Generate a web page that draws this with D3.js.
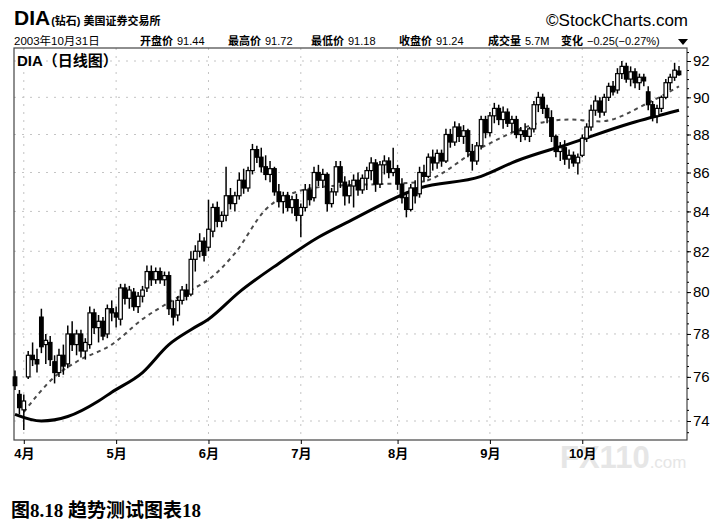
<!DOCTYPE html>
<html>
<head>
<meta charset="utf-8">
<script src="https://cdn.jsdelivr.net/npm/d3@7"></script>
<style>
    body { margin: 0; background: #fff; }
    text { font-family: "Liberation Sans", Arial, "Noto Sans CJK SC", sans-serif; }
</style>
</head>
<body>
<script>
// DIA daily candles, 2003-03-28 .. 2003-10-31 (152 trading days)
const opens = [76.0,75.2,74.5,76.0,77.0,76.8,78.8,77.5,77.6,76.7, 76.2,77.0,76.6,78.0,77.5,78.0,77.2,77.5,79.0,78.3,
    78.6,78.0,79.2,79.0,78.7,80.2,79.7,80.0,79.3,79.8, 80.2,81.0,80.6,81.0,80.6,80.8,79.2,78.9,79.6,80.1,
    79.9,81.6,82.0,82.5,82.2,83.0,84.2,83.5,83.8,84.8, 84.4,84.8,85.6,85.2,86.1,87.2,86.8,86.3,85.9,86.2,
    85.0,84.5,84.8,84.2,84.6,83.8,84.2,85.1,84.7,86.0, 85.6,85.9,84.4,85.0,86.3,85.5,84.8,85.3,85.6,85.1,
    85.7,86.1,86.5,85.4,86.4,86.6,86.0,86.2,85.4,84.7, 84.1,85.2,84.9,86.0,85.8,86.8,86.5,87.0,86.6,88.0,
    87.6,88.4,87.9,88.2,87.1,86.6,87.4,88.8,88.1,89.0, 89.4,88.8,89.2,88.6,88.8,88.0,88.2,87.9,88.3,89.6,
    90.0,89.4,88.9,87.9,87.1,87.3,86.7,86.9,86.5,86.9, 87.8,88.4,89.3,89.8,89.2,90.0,90.6,90.4,91.3,91.7,
    91.0,91.4,90.8,91.1,90.3,89.6,89.0,89.4,90.0,90.8, 91.1,91.44];
const highs = [76.3,75.4,75.2,77.2,77.6,77.3,79.2,78.0,77.9,77.0, 77.3,77.5,78.4,78.6,78.2,78.2,77.8,79.3,79.2,78.9,
    78.8,79.4,79.6,79.3,80.4,80.4,80.3,80.2,80.0,80.3, 81.3,81.3,81.2,81.2,81.0,81.0,79.6,79.8,80.3,80.4,
    82.0,82.3,82.9,82.7,84.6,84.4,84.5,84.0,86.3,85.2, 85.0,86.0,86.2,86.3,87.5,87.4,87.3,86.9,86.6,86.3,
    85.4,85.0,85.0,84.8,84.9,84.4,85.4,85.4,86.3,86.4, 86.2,86.0,85.2,86.6,86.6,85.8,85.6,85.9,86.0,85.9,
    86.3,86.8,86.7,86.6,86.9,86.8,87.3,86.4,85.7,85.0, 85.4,85.6,86.3,86.4,87.0,87.2,87.2,87.2,88.3,88.3,
    88.7,88.6,88.5,88.3,87.5,87.6,89.0,89.0,89.2,89.7, 89.6,89.5,89.4,89.0,89.0,88.4,88.6,88.4,89.8,90.3,
    90.2,89.6,89.3,88.0,87.6,87.7,87.2,87.1,87.0,88.0, 88.6,89.6,90.1,90.0,90.2,90.8,90.9,91.6,92.0,91.9,
    91.7,91.6,91.3,91.3,90.6,89.8,89.6,90.1,91.0,91.3, 91.9,91.72];
const lows = [75.4,74.3,73.6,75.9,76.5,76.2,77.1,76.6,76.5,75.7, 76.0,76.1,76.4,77.2,77.0,76.9,76.8,77.3,78.0,77.6,
    77.7,77.8,78.6,78.3,78.4,79.4,79.2,79.1,79.0,79.5, 80.0,80.3,80.4,80.4,80.3,78.9,78.4,78.6,79.4,79.6,
    79.8,81.0,81.7,81.5,82.0,82.7,83.2,83.2,83.5,84.1, 84.0,84.6,84.9,85.0,85.9,86.5,86.0,85.6,85.5,84.8,
    84.2,83.9,84.0,83.9,83.5,82.7,84.0,84.3,84.5,85.3, 85.2,84.0,84.2,84.8,85.2,84.3,84.4,84.2,84.8,84.9,
    85.1,85.6,85.0,85.2,85.9,85.7,85.8,85.1,84.4,83.7, 84.0,84.4,84.7,85.5,85.7,86.1,86.2,86.3,86.5,87.3,
    87.4,87.6,87.5,86.8,86.1,86.4,87.2,87.8,87.9,88.6, 88.5,88.3,88.4,88.1,87.8,87.6,87.7,87.6,88.1,89.2,
    89.1,88.6,87.6,86.8,86.6,86.4,86.2,86.3,85.9,86.8, 87.6,88.2,89.0,88.9,89.0,89.8,90.1,90.2,91.0,90.8,
    90.6,90.5,90.4,90.6,89.3,88.7,88.6,89.2,89.9,90.4, 90.9,91.18];
const closes = [75.6,74.6,74.9,77.0,76.8,76.6,77.4,77.7,76.8,76.2, 77.0,76.5,78.0,77.5,78.0,77.2,77.6,79.0,78.3,78.6,
    77.9,79.2,79.0,78.8,80.2,79.7,80.1,79.3,79.8,80.1, 81.0,80.6,81.0,80.6,80.8,79.2,78.8,79.6,80.1,79.8,
    81.6,82.0,82.5,81.8,83.1,84.2,83.5,83.8,84.8,84.4, 84.8,85.6,85.2,86.1,87.2,86.8,86.3,85.9,86.2,85.0,
    84.5,84.8,84.2,84.6,83.8,84.2,85.1,84.6,86.0,85.6, 85.9,84.4,85.0,86.3,85.5,84.8,85.3,85.6,85.1,85.7,
    86.1,86.5,85.4,86.4,86.6,86.0,86.2,85.4,84.7,84.1, 85.2,84.8,86.0,85.8,86.8,86.5,87.0,86.6,88.0,87.6,
    88.4,87.9,88.2,87.1,86.6,87.4,88.8,88.1,89.0,89.4, 88.8,89.2,88.6,88.8,88.0,88.2,87.9,88.3,89.6,90.0,
    89.4,88.9,87.9,87.1,87.3,86.7,86.9,86.5,86.8,87.8, 88.4,89.3,89.8,89.2,90.0,90.6,90.3,91.3,91.7,91.0,
    91.4,90.8,91.1,90.9,89.6,89.0,89.4,90.0,90.8,91.1, 91.49,91.24];

// moving averages: [day index, value]
const maShortIdx = [2, 9, 14, 22, 29, 35, 40, 44, 50, 57, 64, 72, 83, 92, 106, 119, 126, 133, 144, 151];
const maShortVal = [74.4, 76.0, 76.7, 77.5, 78.7, 79.5, 80.1, 80.6, 81.9, 84.1, 85.0, 85.3, 85.4, 85.5, 87.3, 88.6, 88.8, 88.7, 89.7, 90.6];
const maLongIdx = [0, 6, 12, 19, 22, 29, 35, 40, 44, 51, 60, 69, 76, 92, 106, 114, 126, 140, 151];
const maLongVal = [74.3, 74.0, 74.2, 74.9, 75.3, 76.2, 77.5, 78.2, 78.7, 80.0, 81.4, 82.7, 83.5, 85.2, 85.8, 86.6, 87.5, 88.6, 89.3];

const months = ["4月", "5月", "6月", "7月", "8月", "9月", "10月"];
const monthStart = [2, 23, 44, 65, 87, 108, 129];
const yTicks = [74, 76, 78, 80, 82, 84, 86, 88, 90, 92];

const quoteLabels = ["开盘价", "最高价", "最低价", "收盘价", "成交量", "变化"];
const quoteValues = ["91.44", "91.72", "91.18", "91.24", "5.7M", "−0.25(−0.27%)"];
const quoteX = [140, 228, 311, 399, 488, 561];

const width = 720;
const height = 523;
const frame = { left: 14, right: 687, top: 48, bottom: 440 };

const svg = d3.select("body")
    .append("svg")
    .attr("width", width)
    .attr("height", height)
    .style("background", "#fff");

const x = d3.scaleLinear()
    .domain([0, 151])
    .range([15, 679]);
const y = d3.scaleLog()
    .domain([74, 92])
    .range([421, 61]);

// header
const title = svg.append("text")
    .attr("x", 14)
    .attr("y", 25)
    .style("font-size", "21px")
    .style("font-weight", "bold")
    .text("DIA");
title.append("tspan")
    .style("font-size", "11px")
    .attr("dx", 1)
    .text("(钻石) 美国证券交易所");

svg.append("text")
    .attr("x", 688)
    .attr("y", 26)
    .attr("text-anchor", "end")
    .style("font-size", "17px")
    .text("©StockCharts.com");

svg.append("text")
    .attr("x", 14)
    .attr("y", 45)
    .style("font-size", "11.5px")
    .text("2003年10月31日");

quoteLabels.forEach((lab, i) => {
    const t = svg.append("text")
        .attr("x", quoteX[i])
        .attr("y", 45)
        .style("font-size", "11px");
    t.append("tspan").style("font-weight", "bold").text(lab);
    t.append("tspan").attr("dx", 4).text(quoteValues[i]);
});
svg.append("path")
    .attr("d", "M678,39 L688,39 L683,45 Z")
    .attr("fill", "#000");

// grid
const grid = svg.append("g").attr("class", "grid");
grid.selectAll("line.h")
    .data(yTicks)
    .join("line")
    .attr("class", "h")
    .attr("x1", frame.left)
    .attr("x2", frame.right)
    .attr("y1", d => y(d))
    .attr("y2", d => y(d))
    .attr("stroke", "#c4c4c4")
    .attr("stroke-dasharray", "2,6");
grid.selectAll("line.v")
    .data(monthStart)
    .join("line")
    .attr("class", "v")
    .attr("x1", d => x(d))
    .attr("x2", d => x(d))
    .attr("y1", frame.top)
    .attr("y2", frame.bottom)
    .attr("stroke", "#c4c4c4")
    .attr("stroke-dasharray", "2,6");

// watermark
const wm = svg.append("text")
    .attr("x", 560)
    .attr("y", 468)
    .attr("fill", "#e6e6e6")
    .style("font-size", "31px")
    .style("font-weight", "bold")
    .text("FX110");
wm.append("tspan")
    .style("font-size", "17px")
    .style("font-weight", "normal")
    .text(".com");

// frame
svg.append("rect")
    .attr("x", frame.left)
    .attr("y", frame.top)
    .attr("width", frame.right - frame.left)
    .attr("height", frame.bottom - frame.top)
    .attr("fill", "none")
    .attr("stroke", "#444")
    .attr("stroke-width", 1.2);

svg.append("text")
    .attr("x", 17)
    .attr("y", 66)
    .style("font-size", "15px")
    .style("font-weight", "bold")
    .text("DIA（日线图）");

// moving averages
const line = d3.line()
    .x(d => x(d[0]))
    .y(d => y(d[1]))
    .curve(d3.curveMonotoneX);

svg.append("path")
    .datum(maLongIdx.map((d, i) => [d, maLongVal[i]]))
    .attr("d", line)
    .attr("fill", "none")
    .attr("stroke", "#000")
    .attr("stroke-width", 3);

svg.append("path")
    .datum(maShortIdx.map((d, i) => [d, maShortVal[i]]))
    .attr("d", line)
    .attr("fill", "none")
    .attr("stroke", "#4a4a4a")
    .attr("stroke-width", 2)
    .attr("stroke-dasharray", "4,4");

// candles
const days = d3.range(closes.length);
const candles = svg.append("g")
    .attr("class", "candles")
    .selectAll("g")
    .data(days)
    .join("g");
candles.append("line")
    .attr("x1", i => x(i))
    .attr("x2", i => x(i))
    .attr("y1", i => y(highs[i]))
    .attr("y2", i => y(lows[i]))
    .attr("stroke", "#000")
    .attr("stroke-width", 1.5);
candles.append("rect")
    .attr("x", i => x(i) - 1.8)
    .attr("width", 3.6)
    .attr("y", i => y(Math.max(opens[i], closes[i])))
    .attr("height", i => Math.max(1, y(Math.min(opens[i], closes[i])) - y(Math.max(opens[i], closes[i]))))
    .attr("fill", i => closes[i] >= opens[i] ? "#fff" : "#000")
    .attr("stroke", "#000")
    .attr("stroke-width", 1.2);

// right axis
const yAxis = svg.append("g")
    .attr("transform", `translate(${frame.right},0)`)
    .call(d3.axisRight(y).tickValues(yTicks).tickFormat(d3.format("d")).tickSize(4).tickPadding(2));
yAxis.select(".domain").remove();
yAxis.selectAll("text")
    .style("font-size", "15px")
    .attr("fill", "#000");
svg.append("g")
    .attr("transform", `translate(${frame.right},0)`)
    .call(d3.axisRight(y).tickValues(d3.range(73.5, 92.6, 0.5)).tickFormat("").tickSize(2))
    .select(".domain").remove();

// bottom axis
const xAxis = svg.append("g")
    .attr("transform", `translate(0,${frame.bottom})`)
    .call(d3.axisBottom(x).tickValues(monthStart).tickFormat((d, i) => months[i]).tickSize(4).tickPadding(5));
xAxis.select(".domain").remove();
xAxis.selectAll("text")
    .style("font-size", "13px")
    .style("font-weight", "bold")
    .attr("fill", "#000");

// caption
svg.append("text")
    .attr("x", 11)
    .attr("y", 517)
    .style("font-family", "\"Liberation Serif\", \"Noto Sans CJK SC\", serif")
    .style("font-size", "19px")
    .style("font-weight", "bold")
    .text("图8.18 趋势测试图表18");
</script>
</body>
</html>
